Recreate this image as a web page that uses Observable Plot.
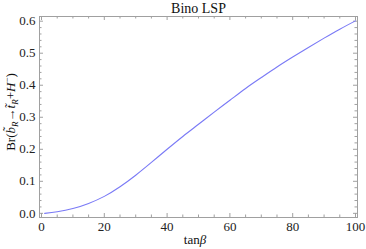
<!DOCTYPE html>
<html>
<head>
<meta charset="utf-8">
<script src="https://cdn.jsdelivr.net/npm/d3@7"></script>
<script src="https://cdn.jsdelivr.net/npm/@observablehq/plot@0.6"></script>
<style>
  html, body { margin: 0; padding: 0; background: #fff; }
  svg text, svg tspan { font-family: "Liberation Serif", serif !important; font-variant: normal !important; }
</style>
</head>
<body>
<div id="chart"></div>
<script>
// Data
const tanBeta = [1, 5, 10, 15, 20, 25, 30, 35, 40, 45, 50, 55, 60, 65, 70, 75, 80, 85, 90, 95, 100];
const branching = [0, 0.005, 0.015, 0.031, 0.053, 0.083, 0.119, 0.159, 0.2, 0.24, 0.278, 0.316, 0.353, 0.39, 0.424, 0.457, 0.488, 0.518, 0.547, 0.575, 0.601];
const xMajorTicks = [0, 20, 40, 60, 80, 100];
const xMinorTicks = [5, 10, 15, 25, 30, 35, 45, 50, 55, 65, 70, 75, 85, 90, 95];
const yMajorTicks = [0, 0.1, 0.2, 0.3, 0.4, 0.5, 0.6];
const yMinorTicks = [0.02, 0.04, 0.06, 0.08, 0.12, 0.14, 0.16, 0.18, 0.22, 0.24, 0.26, 0.28, 0.32, 0.34, 0.36, 0.38, 0.42, 0.44, 0.46, 0.48, 0.52, 0.54, 0.56, 0.58];
const title = "Bino LSP";

const W = 366, H = 249;
const mt = 16, mb = 32, ml = 39, mr = 9;
const ph = H - mt - mb, pw = W - ml - mr;
const gray = "#a0a0a0";
const majorLen = 4, minorLen = 2.5;
const serif = "Liberation Serif";

const rows = tanBeta.map((x, i) => ({x, y: branching[i]}));

const svg = Plot.plot({
  width: W,
  height: H,
  marginTop: mt,
  marginBottom: mb,
  marginLeft: ml,
  marginRight: mr,
  style: "font-family: 'Liberation Serif', serif; font-size: 13px; color: #222; background: #fff;",
  x: {domain: [-0.64, 100.64]},
  y: {domain: [-0.013, 0.6146]},
  marks: [
    Plot.frame({stroke: gray}),
    // inward ticks, bottom & top
    Plot.tickX(xMajorTicks, {x: d => d, stroke: gray, insetTop: ph - majorLen}),
    Plot.tickX(xMajorTicks, {x: d => d, stroke: gray, insetBottom: ph - majorLen}),
    Plot.tickX(xMinorTicks, {x: d => d, stroke: gray, insetTop: ph - minorLen}),
    Plot.tickX(xMinorTicks, {x: d => d, stroke: gray, insetBottom: ph - minorLen}),
    // inward ticks, left & right
    Plot.tickY(yMajorTicks, {y: d => d, stroke: gray, insetRight: pw - majorLen}),
    Plot.tickY(yMajorTicks, {y: d => d, stroke: gray, insetLeft: pw - majorLen}),
    Plot.tickY(yMinorTicks, {y: d => d, stroke: gray, insetRight: pw - minorLen}),
    Plot.tickY(yMinorTicks, {y: d => d, stroke: gray, insetLeft: pw - minorLen}),
    Plot.axisX({ticks: xMajorTicks, tickSize: 0, tickPadding: 4, label: null, fontSize: 13, fontFamily: serif, fill: "#222"}),
    Plot.axisY({ticks: yMajorTicks, tickSize: 0, tickPadding: 4, label: null, fontSize: 13, fontFamily: serif, fill: "#222", tickFormat: d3.format(".1f")}),
    Plot.line(rows, {x: "x", y: "y", stroke: "#7a7af6", strokeWidth: 1.1, curve: "natural"}),
    Plot.text([title], {frameAnchor: "top", dy: -4, fontSize: 14, fontFamily: serif, fill: "#111", lineAnchor: "bottom", text: d => d})
  ]
});

// Axis labels with italic parts and sub/superscripts
const s = d3.select(svg);
s.selectAll("text").attr("font-family", serif).attr("font-variant", null);
const xl = s.append("text")
  .attr("x", 195).attr("y", 244)
  .attr("text-anchor", "middle")
  .attr("font-family", serif)
  .attr("font-size", 13)
  .attr("fill", "#111");
xl.append("tspan").text("tan");
xl.append("tspan").attr("font-style", "italic").text("β");

const yl = s.append("text")
  .attr("transform", "translate(15,112) rotate(-90)")
  .attr("text-anchor", "middle")
  .attr("font-family", serif)
  .attr("font-size", 13)
  .attr("fill", "#111");
yl.append("tspan").text("Br(");
yl.append("tspan").attr("font-style", "italic").text("b\u0303");
yl.append("tspan").attr("font-style", "italic").attr("font-size", 9).attr("dy", 3).text("R");
yl.append("tspan").attr("dy", -3).text("\u2192");
yl.append("tspan").attr("font-style", "italic").text("t\u0303");
yl.append("tspan").attr("font-style", "italic").attr("font-size", 9).attr("dy", 3).text("R");
yl.append("tspan").attr("dy", -3).text("+");
yl.append("tspan").attr("font-style", "italic").text("H");
yl.append("tspan").attr("font-size", 9).attr("dy", -5).text("\u2212");
yl.append("tspan").attr("dy", 5).text(")");

document.getElementById("chart").appendChild(svg);
</script>
</body>
</html>
